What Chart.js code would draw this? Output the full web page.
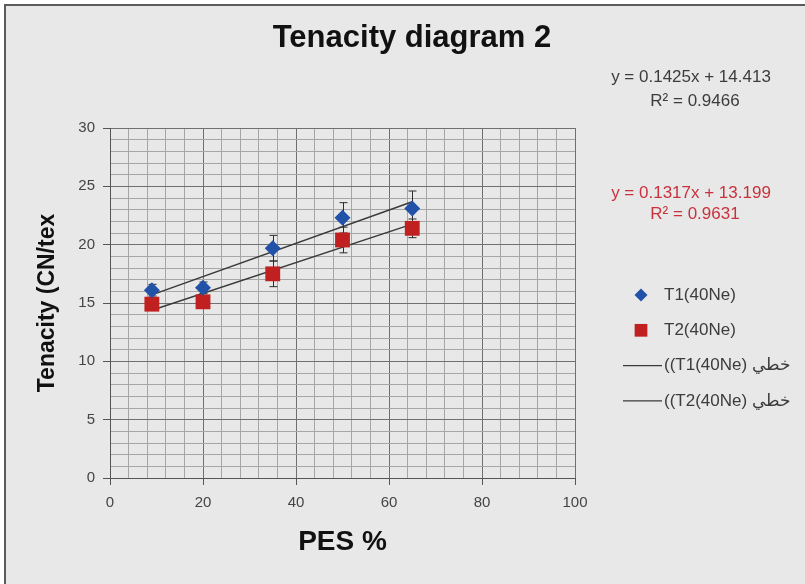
<!DOCTYPE html>
<html>
<head>
<meta charset="utf-8">
<title>Tenacity diagram 2</title>
<script src="https://cdn.jsdelivr.net/npm/chart.js@4.4.0/dist/chart.umd.min.js"></script>
<style>
    html, body { margin: 0; padding: 0; background: #fff; }
    #chartWrap { width: 805px; height: 584px; }
</style>
</head>
<body>
<div id="chartWrap"><canvas id="tenacityChart" width="805" height="584"></canvas></div>
<script>
// Values
const pesPercent = [9, 20, 35, 50, 65];
const t1Values = [16.1, 16.3, 19.7, 22.3, 23.1];
const t2Values = [14.9, 15.1, 17.5, 20.4, 21.4];
const t1Errors = [0.5, 0.5, 1.1, 1.3, 1.5];
const t2Errors = [0.4, 0.4, 1.1, 1.1, 0.8];
const seriesNames = ['T1(40Ne)', 'T2(40Ne)'];
// trendline legend text as Excel shows it (left-to-right order kept)
const trendNames = ['\u202A((T1(40Ne) \u062e\u0637\u064a\u202C', '\u202A((T2(40Ne) \u062e\u0637\u064a\u202C'];
const trendSlopes = [0.1425, 0.1317];
const trendIntercepts = [14.413, 13.199];
const trendR2 = [0.9466, 0.9631];
const xTickLabels = [0, 20, 40, 60, 80, 100];
const yTickLabels = [0, 5, 10, 15, 20, 25, 30];

const FONT = '"Liberation Sans", Arial, sans-serif';
const majorGrid = '#707070';
const minorGrid = '#a6a6a6';
const equationColors = ['#3c3c3c', '#c8323c'];

function toPoints(xs, ys) {
    return xs.map((x, i) => ({ x: x, y: ys[i] }));
}

function trendPoints(index) {
    const xMin = Math.min(...pesPercent);
    const xMax = Math.max(...pesPercent);
    return [xMin, xMax].map(x => ({ x: x, y: trendIntercepts[index] + trendSlopes[index] * x }));
}

const framePlugin = {
    id: 'frame',
    beforeDraw(chart) {
        const ctx = chart.ctx;
        ctx.save();
        ctx.fillStyle = '#ffffff';
        ctx.fillRect(0, 0, chart.width, chart.height);
        ctx.fillStyle = '#e8e8e8';
        ctx.fillRect(5, 5, chart.width - 5, chart.height - 5);
        ctx.strokeStyle = '#5b5b5b';
        ctx.lineWidth = 2;
        ctx.beginPath();
        ctx.moveTo(5, chart.height);
        ctx.lineTo(5, 5);
        ctx.lineTo(chart.width, 5);
        ctx.stroke();
        ctx.restore();
    }
};

const errorBarsPlugin = {
    id: 'errorBars',
    beforeDatasetsDraw(chart) {
        const { ctx, scales: { x, y } } = chart;
        ctx.save();
        ctx.strokeStyle = '#2b2b2b';
        ctx.lineWidth = 1;
        chart.data.datasets.forEach(ds => {
            if (!ds.errors) return;
            ds.data.forEach((pt, i) => {
                const px = Math.round(x.getPixelForValue(pt.x)) + 0.5;
                const top = y.getPixelForValue(pt.y + ds.errors[i]);
                const bottom = y.getPixelForValue(pt.y - ds.errors[i]);
                ctx.beginPath();
                ctx.moveTo(px, top);
                ctx.lineTo(px, bottom);
                ctx.moveTo(px - 4, top);
                ctx.lineTo(px + 4, top);
                ctx.moveTo(px - 4, bottom);
                ctx.lineTo(px + 4, bottom);
                ctx.stroke();
            });
        });
        ctx.restore();
    }
};

const annotationsPlugin = {
    id: 'annotations',
    afterDraw(chart) {
        const ctx = chart.ctx;
        ctx.save();

        // chart title
        ctx.fillStyle = '#111111';
        ctx.font = 'bold 31px ' + FONT;
        ctx.textAlign = 'center';
        ctx.textBaseline = 'alphabetic';
        ctx.fillText('Tenacity diagram 2', 412, 47);

        // trendline equations
        const eqBaselines = [[82, 106], [198, 219]];
        ctx.font = '17px ' + FONT;
        trendSlopes.forEach((m, i) => {
            ctx.fillStyle = equationColors[i];
            ctx.fillText(`y = ${m}x + ${trendIntercepts[i]}`, 691, eqBaselines[i][0]);
            ctx.fillText(`R\u00b2 = ${trendR2[i]}`, 695, eqBaselines[i][1]);
        });

        // legend
        ctx.textAlign = 'left';
        ctx.textBaseline = 'middle';
        ctx.direction = 'ltr';
        ctx.font = '17px ' + FONT;
        chart.data.datasets.forEach((ds, i) => {
            const rowY = 295 + i * 35.3;
            if (ds.showLine) {
                ctx.strokeStyle = ds.borderColor;
                ctx.lineWidth = 1.2;
                ctx.beginPath();
                ctx.moveTo(623, rowY);
                ctx.lineTo(662, rowY);
                ctx.stroke();
            } else {
                ctx.fillStyle = ds.backgroundColor;
                Chart.helpers.drawPoint(ctx, {
                    pointStyle: ds.pointStyle,
                    radius: ds.pointStyle === 'rect' ? 9 : 6.5,
                    borderWidth: 0
                }, 641, rowY);
            }
            ctx.fillStyle = '#3c3c3c';
            ctx.fillText(ds.label, 664, rowY);
        });

        ctx.restore();
    }
};

function initializeTenacityChart() {
    const canvas = document.getElementById('tenacityChart');

    return new Chart(canvas, {
        type: 'scatter',
        data: {
            datasets: [
                {
                    label: seriesNames[0],
                    data: toPoints(pesPercent, t1Values),
                    errors: t1Errors,
                    pointStyle: 'rectRot',
                    pointRadius: 8,
                    backgroundColor: '#2251a8',
                    borderColor: '#2251a8',
                    borderWidth: 0
                },
                {
                    label: seriesNames[1],
                    data: toPoints(pesPercent, t2Values),
                    errors: t2Errors,
                    pointStyle: 'rect',
                    pointRadius: 10.5,
                    backgroundColor: '#c0201f',
                    borderColor: '#c0201f',
                    borderWidth: 0
                },
                {
                    label: trendNames[0],
                    data: trendPoints(0),
                    showLine: true,
                    pointRadius: 0,
                    borderColor: '#3a3a3a',
                    borderWidth: 1.5
                },
                {
                    label: trendNames[1],
                    data: trendPoints(1),
                    showLine: true,
                    pointRadius: 0,
                    borderColor: '#3a3a3a',
                    borderWidth: 1.5
                }
            ]
        },
        options: {
            responsive: false,
            devicePixelRatio: 1,
            animation: false,
            layout: {
                padding: { top: 128, right: 230, bottom: 0, left: 0 }
            },
            plugins: {
                legend: { display: false },
                tooltip: { enabled: false }
            },
            scales: {
                x: {
                    type: 'linear',
                    min: 0,
                    max: 100,
                    afterFit: scale => { scale.height = 106; },
                    ticks: {
                        stepSize: 4,
                        autoSkip: false,
                        maxRotation: 0,
                        padding: 9,
                        color: '#444444',
                        font: { family: FONT, size: 15 },
                        callback: v => xTickLabels.includes(v) ? String(v) : ''
                    },
                    grid: {
                        color: c => xTickLabels.includes(c.tick.value) ? majorGrid : minorGrid,
                        tickColor: c => xTickLabels.includes(c.tick.value) ? '#555555' : 'rgba(0,0,0,0)',
                        tickLength: 7,
                        lineWidth: 1
                    },
                    border: { color: '#555555', width: 1 },
                    title: {
                        display: true,
                        text: 'PES %',
                        color: '#111111',
                        font: { family: FONT, size: 28, weight: 'bold' },
                        padding: { top: 0, bottom: 25 }
                    }
                },
                y: {
                    type: 'linear',
                    min: 0,
                    max: 30,
                    afterFit: scale => { scale.width = 110; },
                    ticks: {
                        stepSize: 1,
                        autoSkip: false,
                        maxTicksLimit: 100,
                        padding: 8,
                        color: '#444444',
                        font: { family: FONT, size: 15 },
                        callback: v => yTickLabels.includes(v) ? String(v) : ''
                    },
                    grid: {
                        color: c => yTickLabels.includes(c.tick.value) ? majorGrid : minorGrid,
                        tickColor: c => yTickLabels.includes(c.tick.value) ? '#555555' : 'rgba(0,0,0,0)',
                        tickLength: 7,
                        lineWidth: 1
                    },
                    border: { color: '#555555', width: 1 },
                    title: {
                        display: true,
                        text: 'Tenacity (CN/tex',
                        color: '#111111',
                        font: { family: FONT, size: 23, weight: 'bold' },
                        padding: { top: 34, bottom: 0 }
                    }
                }
            }
        },
        plugins: [framePlugin, errorBarsPlugin, annotationsPlugin]
    });
}

initializeTenacityChart();
</script>
</body>
</html>
